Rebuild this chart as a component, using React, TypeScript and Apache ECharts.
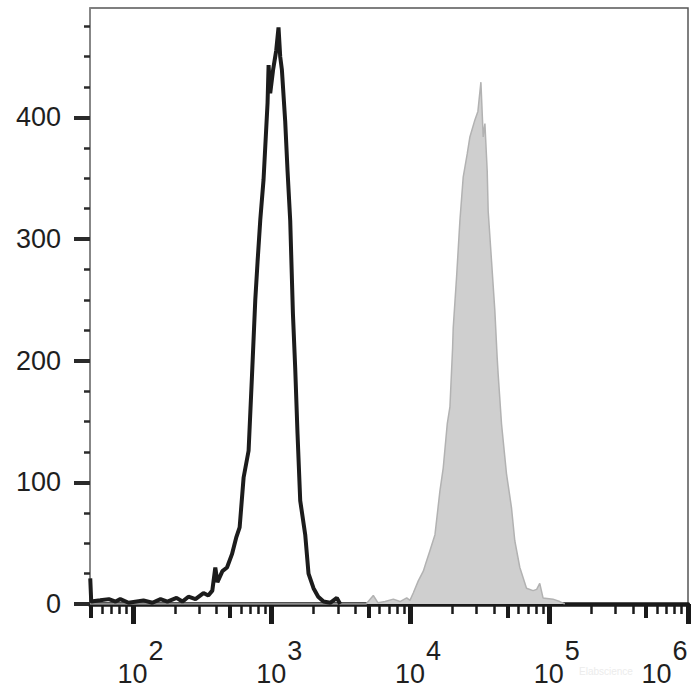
import React, { useEffect, useRef } from "react";
import * as echarts from "echarts";

// ---- data (x in fluorescence units, y in cell counts) ----
const blackX = [49.2, 50, 58, 67, 75, 81, 93, 119, 138, 158, 177, 206, 227, 251, 282, 322, 349, 373, 392, 406, 441, 476, 517, 556, 587, 627, 681, 720, 761, 791, 827, 873, 933, 949, 975, 1025, 1077, 1119, 1151, 1184, 1250, 1300, 1359, 1421, 1476, 1534, 1604, 1743, 1841, 2000, 2162, 2362, 2638, 2946, 3111];
const blackY = [21, 2, 3, 4, 2, 4, 1, 3, 1, 4, 2, 5, 2, 6, 4, 9, 7, 11, 30, 18, 27, 30, 41, 55, 63, 104, 126, 187, 250, 282, 316, 349, 412, 443, 420, 440, 455, 474, 450, 439, 397, 356, 315, 239, 194, 140, 85, 57, 25, 13, 6, 2, 1, 5, 0];

const grayX = [49, 4786, 5395, 5834, 6555, 7522, 8400, 9391, 9914, 10470, 11380, 12370, 12930, 13820, 15010, 16300, 17220, 18400, 19240, 20100, 20320, 21490, 22700, 23980, 25630, 26800, 29120, 30600, 32170, 33420, 34380, 35720, 36300, 38380, 40550, 42120, 42830, 45300, 49200, 53460, 56460, 61370, 68560, 76430, 81200, 85400, 90200, 106400, 119000, 129400];
const grayY = [0, 0, 7, 1, 2, 4, 2, 5, 3, 9, 19, 27, 34, 44, 57, 93, 112, 148, 162, 210, 227, 269, 315, 351, 370, 384, 398, 405, 429, 384, 395, 356, 323, 282, 241, 203, 189, 148, 107, 79, 52, 30, 13, 11, 12, 17, 5, 4, 2, 0];

const xExponents = [2, 3, 4, 5, 6];
const xMidMultipliers = [5];
const xMinorMultipliers = [2, 3, 4, 6, 7, 8, 9];
const xDecades = [1, 2, 3, 4, 5];
const X_MIN = 49;
const X_MAX = 1e6;

const yMajor = [0, 100, 200, 300, 400];
const yMinor = [25, 50, 75, 125, 150, 175, 225, 250, 275, 325, 350, 375, 425, 450, 475];
const Y_MAX = 490;

const watermark = "Elabscience";

const FONT = "'Liberation Sans', Arial, sans-serif";
const TXT = "#1f1f1f";
const FS = 27;

const lg = (v: number) => Math.log10(v);
const lo = lg(X_MIN);
const hi = lg(X_MAX);
const inRange = (v: number) => v >= lo - 1e-9 && v <= hi + 1e-9;
const tickSet = (mults: number[]) =>
  xDecades.flatMap((d) => mults.map((m) => lg(m * Math.pow(10, d)))).filter(inRange);

export default function App() {
  const ref = useRef<HTMLDivElement>(null);
  useEffect(() => {
    if (!ref.current) return;
    const chart = echarts.init(ref.current, undefined, { renderer: "svg" });
    const hiddenLine = { show: false };
    const option: any = {
      animation: false,
      backgroundColor: "#ffffff",
      grid: {
        left: 90,
        top: 8,
        right: 12,
        bottom: 96,
        show: true,
        borderColor: "#555555",
        borderWidth: 1.5,
        outerBoundsMode: "none",
      },
      xAxis: [
        {
          type: "value",
          position: "bottom",
          min: lo,
          max: hi,
          axisLine: { show: true, onZero: false, lineStyle: { color: "#1a1a1a", width: 4.5 } },
          axisTick: {
            show: true,
            customValues: xExponents,
            length: 20,
            lineStyle: { color: "#1a1a1a", width: 5 },
          },
          axisLabel: {
            show: true,
            customValues: xExponents,
            margin: 33,
            formatter: (v: number) => {
              const e = Math.round(v);
              return e === 6 ? `{b6|10}{e6|${e}}` : `{b|10}{s|${e}}`;
            },
            rich: {
              b: { fontSize: FS, fontFamily: FONT, color: TXT, padding: [23, 0, 0, 15] },
              s: { fontSize: FS, fontFamily: FONT, color: TXT, padding: [0, 0, 23, 1] },
              b6: { fontSize: FS, fontFamily: FONT, color: TXT, padding: [23, 0, 0, 0] },
              e6: { fontSize: FS, fontFamily: FONT, color: TXT, padding: [0, 47, 23, 1] },
            },
          },
          splitLine: { show: false },
        },
        {
          type: "value",
          position: "bottom",
          min: lo,
          max: hi,
          axisLine: hiddenLine,
          axisTick: { show: true, customValues: tickSet(xMidMultipliers), length: 14, lineStyle: { color: "#1a1a1a", width: 4 } },
          axisLabel: { show: false },
          splitLine: { show: false },
        },
        {
          type: "value",
          position: "bottom",
          min: lo,
          max: hi,
          axisLine: hiddenLine,
          axisTick: { show: true, customValues: tickSet(xMinorMultipliers), length: 10, lineStyle: { color: "#1a1a1a", width: 2.5 } },
          axisLabel: { show: false },
          splitLine: { show: false },
        },
      ],
      yAxis: [
        {
          type: "value",
          position: "left",
          min: 0,
          max: Y_MAX,
          axisLine: { show: true, lineStyle: { color: "#8a8a8a", width: 1.5 } },
          axisTick: { show: true, customValues: yMajor, length: 16, lineStyle: { color: "#2a2a2a", width: 4 } },
          axisLabel: {
            show: true,
            customValues: yMajor,
            margin: 29,
            fontSize: FS,
            fontFamily: FONT,
            color: TXT,
          },
          splitLine: { show: false },
        },
        {
          type: "value",
          position: "left",
          min: 0,
          max: Y_MAX,
          axisLine: hiddenLine,
          axisTick: { show: true, customValues: yMinor, length: 6, lineStyle: { color: "#2a2a2a", width: 2.5 } },
          axisLabel: { show: false },
          splitLine: { show: false },
        },
      ],
      series: [
        {
          type: "line",
          xAxisIndex: 0,
          yAxisIndex: 0,
          symbol: "none",
          silent: true,
          data: grayX.map((x, i) => [lg(x), grayY[i]]),
          lineStyle: { color: "#b2b2b2", width: 1.5 },
          areaStyle: { color: "#cfcfcf", opacity: 1 },
          z: 1,
        },
        {
          type: "line",
          xAxisIndex: 0,
          yAxisIndex: 0,
          symbol: "none",
          silent: true,
          data: blackX.map((x, i) => [lg(x), blackY[i]]),
          lineStyle: { color: "#1c1c1c", width: 4 },
          z: 3,
        },
      ],
      graphic: [
        {
          type: "text",
          left: 579,
          top: 666,
          silent: true,
          style: { text: watermark, fill: "#ececec", fontSize: 10, fontFamily: FONT },
        },
      ],
    };
    chart.setOption(option);
    return () => chart.dispose();
  }, []);
  return (
    <div
      ref={ref}
      style={{ position: "fixed", left: 0, top: 0, width: 700, height: 700, background: "#fff" }}
    />
  );
}
